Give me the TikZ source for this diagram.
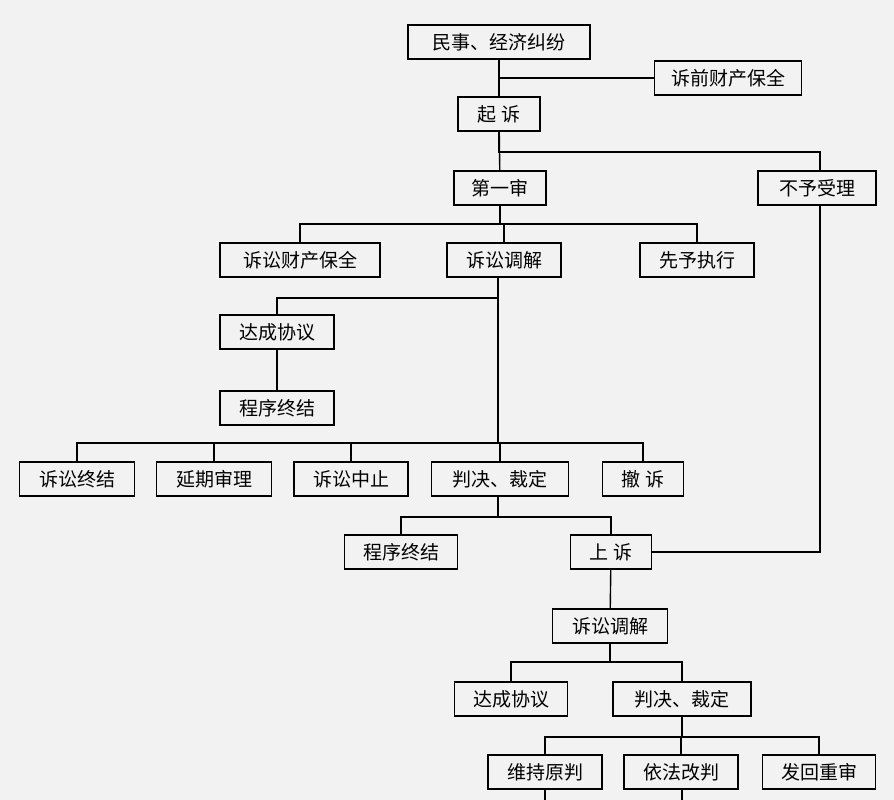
\documentclass[tikz,border=0pt]{standalone}
\usepackage{fontspec}
\newfontfamily\cjk{Noto Sans CJK SC}
\tikzset{box/.style={draw, line width=1.6pt, fill=white!95!black, inner sep=0pt, minimum height=34pt, font=\cjk\fontsize{19}{19}\selectfont},
  link/.style={draw, line width=1.4pt}}
\begin{document}
\begin{tikzpicture}[x=1pt, y=-1pt]
	\useasboundingbox[fill=black!5] (0,0) rectangle (894,800);
	% First we draw the boxes
	\foreach \pos/\name/\bw/\txt in {
		{(499,42)/start/182/民事、经济纠纷}, {(728,78)/preserve/147/诉前财产保全},
		{(499,114)/sue/82/起\ 诉}, {(500,188)/first/92/第一审}, {(817,188)/reject/118/不予受理},
		{(300,260)/lpres/160/诉讼财产保全}, {(504,260)/med/114/诉讼调解}, {(697,260)/advance/114/先予执行},
		{(277,332)/agree/114/达成协议}, {(277,408)/endA/114/程序终结},
		{(77,479)/term/115/诉讼终结}, {(214,479)/delay/115/延期审理}, {(351,479)/susp/114/诉讼中止},
		{(500,479)/judge/137/判决、裁定}, {(643,479)/withdraw/81/撤\ 诉},
		{(401,552)/endB/113/程序终结}, {(611,552)/appeal/81/上\ 诉},
		{(610,626)/medB/115/诉讼调解},
		{(511,699)/agreeB/113/达成协议}, {(682,699)/judgeB/138/判决、裁定},
		{(545,772)/keep/114/维持原判}, {(681,772)/change/114/依法改判}, {(819,772)/retry/113/发回重审}}
	\node[box, minimum width=\bw pt] (\name) at \pos {\txt};
	
	% Connect boxes
	\foreach \source/\dest in {start/sue, agree/endA, appeal/medB}
	\path[link] (\source) -- (\dest);
	\path[link] (499,78) -- (preserve.west);
	\path[link] (sue) |- (820,152) -- (reject.north -| 820,0);
	\path[link] (sue) -- (first);
	\foreach \dest in {lpres, med, advance}
	\path[link] (first.south) |- (\dest.north |- 0,224) -- (\dest.north);
	\path[link] (med.south -| 498,0) -- (498,443);
	\path[link] (498,298) -| (agree.north);
	\foreach \dest in {term, delay, susp, judge, withdraw}
	\path[link] (498,443) -| (\dest.north);
	\foreach \dest in {endB, appeal}
	\path[link] (judge.south -| 498,0) |- (\dest.north |- 0,517) -- (\dest.north);
	\path[link] (appeal.east) -| (reject.south -| 820,0);
	\foreach \dest in {agreeB, judgeB}
	\path[link] (medB.south) |- (\dest.north |- 0,662) -- (\dest.north);
	\foreach \dest in {keep, change, retry}
	\path[link] (judgeB.south) |- (\dest.north |- 0,737) -- (\dest.north);
	\path[link] (keep.south) -- ++(0,12);
	\path[link] (change.south -| judgeB.south) -- ++(0,12);
\end{tikzpicture}
\end{document}
